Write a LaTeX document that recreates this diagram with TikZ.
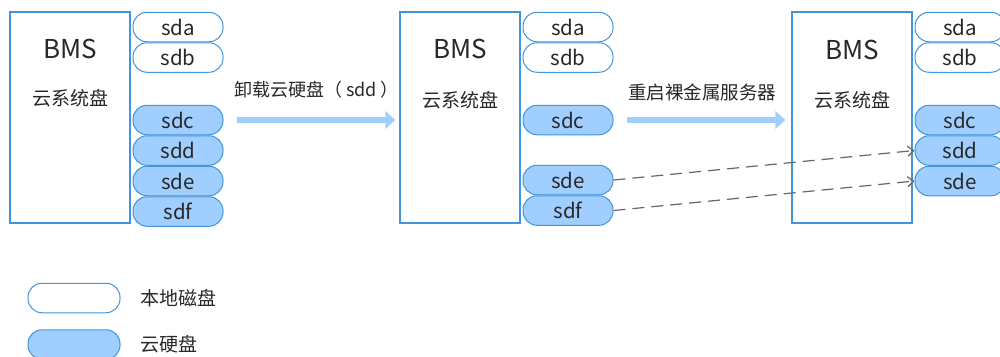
\documentclass[tikz,border=0pt]{standalone}
\usepackage{fontspec}
\setmainfont{Noto Sans CJK SC}
\usepackage{tikz}
\usetikzlibrary{arrows.meta,positioning}

\definecolor{edgeblue}{RGB}{66,148,220}
\definecolor{cloudfill}{RGB}{160,206,255}
\definecolor{textgray}{RGB}{40,40,40}

\tikzset{
  server/.style={draw=edgeblue,line width=1.1pt,fill=white,minimum width=120pt,minimum height=211pt},
  localdisk/.style={draw=edgeblue,line width=1pt,fill=white,rounded corners=14pt,minimum width=90pt,minimum height=29.5pt,inner sep=0pt,font=\fontsize{20.5}{20.5}\selectfont,text=textgray},
  clouddisk/.style={localdisk,fill=cloudfill},
  bigarrow/.style={draw=cloudfill,line width=6pt,-{Triangle[width=17pt,length=10pt]}},
  moved/.style={draw=black!60,line width=1.2pt,dash pattern=on 12pt off 7pt,-{Straight Barb[length=6pt,width=10pt]}},
}

\begin{document}
\begin{tikzpicture}[x=1pt,y=-1pt,text=textgray]
      \useasboundingbox (0,0) rectangle (1000,356);

      \node[server] (box1) at (70,117.5) {};
      \node[server] (box2) at (460,117.5) {};
      \node[server] (box3) at (852,117.5) {};

      \node[font=\fontsize{26}{26}\selectfont] (bms1) at (70,49) {BMS};
      \node[font=\fontsize{19}{19}\selectfont] (sys1) at (70,98) {云系统盘};
      \node[font=\fontsize{26}{26}\selectfont] (bms2) at (460,49) {BMS};
      \node[font=\fontsize{19}{19}\selectfont] (sys2) at (460,100) {云系统盘};
      \node[font=\fontsize{26}{26}\selectfont] (bms3) at (852,50) {BMS};
      \node[font=\fontsize{19}{19}\selectfont] (sys3) at (852,100) {云系统盘};

      % before
      \node[localdisk] (sda1) at (178,27) {sda};
      \node[localdisk,below=0pt of sda1] (sdb1) {sdb};
      \node[clouddisk] (sdc1) at (178,120) {sdc};
      \node[clouddisk,below=0pt of sdc1] (sdd1) {sdd};
      \node[clouddisk,below=0pt of sdd1] (sde1) {sde};
      \node[clouddisk,below=0pt of sde1] (sdf1) {sdf};

      % after detach
      \node[localdisk] (sda2) at (568,27) {sda};
      \node[localdisk,below=0pt of sda2] (sdb2) {sdb};
      \node[clouddisk] (sdc2) at (568,120) {sdc};
      \node[clouddisk] (sde2) at (568,180) {sde};
      \node[clouddisk,below=0pt of sde2] (sdf2) {sdf};

      % after reboot
      \node[localdisk] (sda3) at (960,27) {sda};
      \node[localdisk,below=0pt of sda3] (sdb3) {sdb};
      \node[clouddisk] (sdc3) at (960,120) {sdc};
      \node[clouddisk,below=0pt of sdc3] (sdd3) {sdd};
      \node[clouddisk,below=0pt of sdd3] (sde3) {sde};

      \draw[bigarrow,shorten <=13pt,shorten >=4pt] (sdc1.east) -- node[above=15pt,xshift=5pt,font=\fontsize{18}{18}\selectfont] (detach) {卸载云硬盘（ sdd ）} (sdc1.east -| box2.west);
      \draw[bigarrow,shorten <=13pt,shorten >=6pt] (sdc2.east) -- node[above=13pt,font=\fontsize{18.5}{18.5}\selectfont] (reboot) {重启裸金属服务器} (sdc2.east -| box3.west);

      \draw[moved] (sde2.east) -- (sdd3.west);
      \draw[moved] (sdf2.east) -- (sde3.west);

      % legend
      \node[localdisk,minimum width=92pt] (keylocal) at (74,298) {};
      \node[clouddisk,minimum width=92pt,below=16pt of keylocal] (keycloud) {};
      \node[right=16pt of keylocal,font=\fontsize{19}{19}\selectfont] (keylocaltxt) {本地磁盘};
      \node[right=16pt of keycloud,font=\fontsize{19}{19}\selectfont] (keycloudtxt) {云硬盘};
    \end{tikzpicture}
\end{document}
